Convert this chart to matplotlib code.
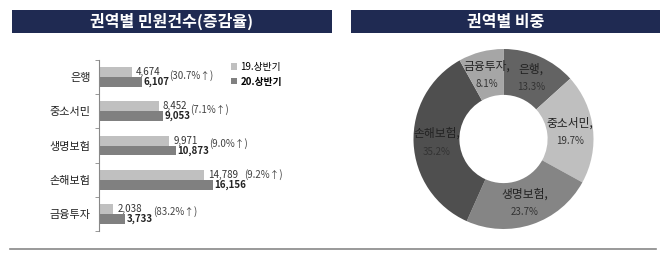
import numpy as np
import matplotlib.pyplot as plt
from matplotlib.lines import Line2D
from matplotlib.patches import Rectangle

categories = ['은행', '중소서민', '생명보험', '손해보험', '금융투자']
h1_2019 = [4674, 8452, 9971, 14789, 2038]
h1_2020 = [6107, 9053, 10873, 16156, 3733]
change_pct = ['30.7', '7.1', '9.0', '9.2', '83.2']
share_pct = [13.3, 19.7, 23.7, 35.2, 8.1]
series_names = ['19.상반기', '20.상반기']

plt.rcParams['font.family'] = ['Noto Sans CJK KR', 'DejaVu Sans']

W, H = 670, 254
fig = plt.figure(figsize=(W / 100, H / 100), dpi=100)

# navy title bars
navy = '#1f2a52'
for x0, x1, title in [(12, 332, '권역별 민원건수(증감율)'), (351, 660, '권역별 비중')]:
    fig.add_artist(Rectangle((x0 / W, 1 - 33 / H), (x1 - x0) / W, 23 / H,
                             transform=fig.transFigure, color=navy, lw=0))
    fig.text((x0 + x1) / 2 / W, 1 - 21.5 / H, title, color='white',
             fontsize=11.5, fontweight='bold', ha='center', va='center')

# left: grouped horizontal bars
ax = fig.add_axes([99 / W, 1 - 231 / H, 212 / W, 171 / H])
y = np.arange(len(categories))
bh = 0.29
ax.barh(y - bh / 2, h1_2019, height=bh, color='#c0c0c0', label=series_names[0])
ax.barh(y + bh / 2, h1_2020, height=bh, color='#808080', label=series_names[1])
ax.set_ylim(len(categories) - 0.5, -0.5)
ax.set_xlim(0, 30000)
ax.set_yticks(y, categories, fontsize=8, color='#222')
ax.set_yticks(np.arange(len(categories) + 1) - 0.5, minor=True)
ax.tick_params(axis='y', which='major', length=0, pad=6)
ax.tick_params(axis='y', which='minor', length=3, color='#888')
ax.set_xticks([])
for s in ['top', 'right', 'bottom']:
    ax.spines[s].set_visible(False)
ax.spines['left'].set_color('#888')

for i in range(len(categories)):
    t1 = ax.annotate(f'{h1_2019[i]:,}', (h1_2019[i], y[i] - bh / 2), xytext=(3, 0),
                     textcoords='offset points', va='center', ha='left',
                     fontsize=7, color='#333')
    t2 = ax.annotate(f'{h1_2020[i]:,}', (h1_2020[i], y[i] + bh / 2), xytext=(1, 0),
                     textcoords='offset points', va='center', ha='left',
                     fontsize=7, color='#222', fontweight='bold')
    if h1_2019[i] > 12000:
        ax.annotate(f'({change_pct[i]}%↑)', xy=(1, y[i] - bh / 2), xycoords=(t1, 'data'),
                    xytext=(5, 0), textcoords='offset points', va='center', ha='left',
                    fontsize=7, color='#444')
    else:
        ax.annotate(f'({change_pct[i]}%↑)', xy=(1, y[i] - 0.06), xycoords=(t2, 'data'),
                    xytext=(0, 0), textcoords='offset points', va='center', ha='left',
                    fontsize=7, color='#444')

leg = ax.legend(loc='upper left', bbox_to_anchor=(226 / W, 1 - 57 / H),
                bbox_transform=fig.transFigure, frameon=False, fontsize=7,
                handlelength=0.6, handleheight=0.6, handletextpad=0.4,
                labelspacing=0.5, borderpad=0)
leg.get_texts()[1].set_fontweight('bold')

# right: donut of shares
ax2 = fig.add_axes([413.5 / W, 25 / H, 180 / W, 180 / H])
colors = ['#636363', '#bfbfbf', '#858585', '#4f4f4f', '#a6a6a6']
wedges, _ = ax2.pie(share_pct, colors=colors, startangle=90, counterclock=False,
                    radius=1, wedgeprops=dict(width=0.51, edgecolor='none'))
for w, name, p in zip(wedges, categories, share_pct):
    ang = np.deg2rad((w.theta1 + w.theta2) / 2)
    cx, cy = 0.745 * np.cos(ang), 0.745 * np.sin(ang)
    ax2.annotate(name + ',', (cx, cy), xytext=(0, 6), textcoords='offset points',
                 ha='center', va='center', fontsize=8.5, color='#222')
    ax2.annotate(f'{p}%', (cx, cy), xytext=(0, -7), textcoords='offset points',
                 ha='center', va='center', fontsize=7, color='#333')
ax2.set_xlim(-1, 1)
ax2.set_ylim(-1, 1)

# bottom rule
fig.add_artist(Line2D([10 / W, 656 / W], [1 - 249 / H] * 2, color='#888', lw=1.2))

fig.savefig('out.png', dpi=100)
